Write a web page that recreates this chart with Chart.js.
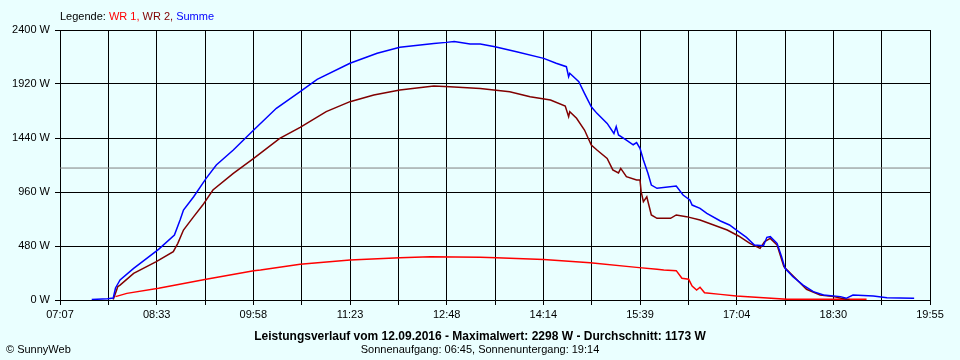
<!DOCTYPE html>
<html>
<head>
<meta charset="utf-8">
<script src="https://cdn.jsdelivr.net/npm/chart.js@4.4.0/dist/chart.umd.min.js"></script>
<style>
  html, body { margin: 0; padding: 0; background: #eaffff; }
  canvas { display: block; }
</style>
</head>
<body>
<canvas id="myChart" width="960" height="360"></canvas>
<script>
// values (12.09.2016)
var sumTimes = ['07:35','07:49','07:54','07:56','07:59','08:00','08:12','08:34','08:48','08:53','08:56','09:05','09:16','09:25','09:40','09:58','10:18','10:39','10:54','11:23','11:47','12:07','12:37','12:48','12:55','13:09','13:18','13:31','13:50','14:14','14:25','14:34','14:36','14:37','14:45','14:50','14:56','15:01','15:10','15:16','15:18','15:20','15:27','15:33','15:36','15:39','15:42','15:46','15:49','15:54','16:11','16:17','16:23','16:25','16:32','16:38','16:50','16:58','17:06','17:13','17:20','17:28','17:31','17:34','17:40','17:44','17:47','17:54','18:03','18:12','18:21','18:36','18:41','18:47','19:05','19:17','19:40','19:41'];
var sumWatts = [4,12,18,107,160,178,281,450,578,711,800,918,1081,1200,1333,1511,1704,1852,1962,2104,2193,2246,2281,2290,2298,2276,2276,2252,2207,2148,2104,2074,1985,2015,1941,1837,1718,1659,1570,1480,1541,1467,1422,1380,1400,1348,1244,1126,1022,993,1013,933,889,844,815,770,702,667,607,557,489,483,557,563,504,385,281,207,133,74,44,30,15,44,36,21,15,15];

var wr2Times = ['07:54','07:57','07:58','08:00','08:12','08:32','08:47','08:51','08:56','09:05','09:13','09:22','09:40','09:58','10:21','10:39','11:02','11:23','11:44','12:07','12:37','12:51','13:18','13:44','14:02','14:20','14:33','14:36','14:37','14:43','14:50','14:56','15:01','15:10','15:15','15:20','15:22','15:27','15:36','15:39','15:40','15:42','15:45','15:49','15:54','16:06','16:11','16:20','16:32','16:44','16:56','17:06','17:16','17:25','17:29','17:34','17:40','17:46','18:06','18:18','18:30','18:41','18:44'];
var wr2Watts = [5,89,119,133,237,341,430,504,622,741,844,978,1126,1259,1437,1535,1674,1763,1822,1867,1902,1896,1881,1852,1807,1778,1724,1630,1674,1615,1511,1378,1333,1259,1156,1130,1170,1096,1067,1067,963,874,918,756,726,726,756,741,711,667,622,569,504,459,519,548,489,296,95,44,30,6,5];

var wr1Times = ['07:56','08:06','08:34','09:16','09:58','10:04','10:39','11:23','12:07','12:34','13:18','13:32','14:14','14:55','15:36','15:54','16:00','16:11','16:16','16:22','16:25','16:29','16:32','16:36','16:50','17:04','17:28','17:49','18:59'];
var wr1Watts = [30,59,104,184,261,267,317,356,376,385,379,376,361,332,290,273,267,261,193,184,124,89,113,65,50,36,21,6,6];

var avgWatt = 1173;
var yTicks = [0, 480, 960, 1440, 1920, 2400];
var timeLabels = ['07:07','08:33','09:58','11:23','12:48','14:14','15:39','17:04','18:30','19:55'];

var fontName = '"Liberation Sans", Arial, sans-serif';

function toMin(t) {
  var p = t.split(':');
  return Number(p[0]) * 60 + Number(p[1]);
}

function points(times, watts) {
  return times.map(function(t, i) { return { x: toMin(t), y: watts[i] }; });
}

var xMin = toMin(timeLabels[0]);
var xMax = toMin(timeLabels[timeLabels.length - 1]);

// multicolour "Legende" line plus the texts below the axis
var textPlugin = {
  id: 'sunnyText',
  afterDraw: function(chart) {
    var ctx = chart.ctx;
    ctx.save();
    ctx.textBaseline = 'alphabetic';
    ctx.textAlign = 'left';
    ctx.font = '11px ' + fontName;

    var parts = [['Legende: ', '#000000'], ['WR 1, ', '#ff0000'], ['WR 2, ', '#800000'], ['Summe', '#0000ff']];
    var x = 60;
    parts.forEach(function(p) {
      ctx.fillStyle = p[1];
      ctx.fillText(p[0], x, 20);
      x += ctx.measureText(p[0]).width;
    });

    ctx.fillStyle = '#000000';
    ctx.fillText('\u00A9 SunnyWeb', 6, 353);

    ctx.textAlign = 'center';
    ctx.font = 'bold 12px ' + fontName;
    ctx.fillText('Leistungsverlauf vom 12.09.2016 - Maximalwert: 2298 W - Durchschnitt: 1173 W', 480, 340);
    ctx.font = '11px ' + fontName;
    ctx.fillText('Sonnenaufgang: 06:45, Sonnenuntergang: 19:14', 480, 353);
    ctx.restore();
  }
};

var ctx = document.getElementById('myChart').getContext('2d');
var chart = new Chart(ctx, {
  type: 'line',
  data: {
    datasets: [
      { label: 'Summe', data: points(sumTimes, sumWatts), borderColor: '#0000ff' },
      { label: 'WR 2', data: points(wr2Times, wr2Watts), borderColor: '#800000' },
      { label: 'WR 1', data: points(wr1Times, wr1Watts), borderColor: '#ff0000' },
      { label: 'Durchschnitt', data: [{ x: xMin, y: avgWatt }, { x: xMax, y: avgWatt }], borderColor: '#808080', borderWidth: 1 }
    ]
  },
  options: {
    responsive: false,
    animation: false,
    devicePixelRatio: 1,
    layout: { padding: { top: 30, right: 30, left: 0, bottom: 0 } },
    elements: {
      point: { radius: 0 },
      line: { borderWidth: 1.5, tension: 0, fill: false }
    },
    plugins: {
      legend: { display: false },
      tooltip: { enabled: false }
    },
    scales: {
      x: {
        type: 'linear',
        min: xMin,
        max: xMax,
        afterBuildTicks: function(scale) {
          var step = (xMax - xMin) / 18;
          var t = [];
          for (var k = 0; k <= 18; k++) t.push({ value: xMin + k * step });
          scale.ticks = t;
        },
        afterFit: function(scale) { scale.height = 60; },
        grid: { color: '#000000', lineWidth: 1, tickLength: 5, drawTicks: true },
        border: { color: '#000000', width: 1 },
        ticks: {
          autoSkip: false,
          maxRotation: 0,
          padding: 3,
          color: '#000000',
          font: { family: fontName, size: 11 },
          callback: function(value, index) {
            return index % 2 === 0 ? timeLabels[index / 2] : '';
          }
        }
      },
      y: {
        min: 0,
        max: 2400,
        afterBuildTicks: function(scale) {
          scale.ticks = yTicks.map(function(v) { return { value: v }; });
        },
        afterFit: function(scale) { scale.width = 60; },
        grid: { color: '#000000', lineWidth: 1, tickLength: 5, drawTicks: true },
        border: { color: '#000000', width: 1 },
        ticks: {
          padding: 5,
          color: '#000000',
          font: { family: fontName, size: 11 },
          callback: function(value) { return value + ' W'; }
        }
      }
    }
  },
  plugins: [textPlugin]
});
</script>
</body>
</html>
